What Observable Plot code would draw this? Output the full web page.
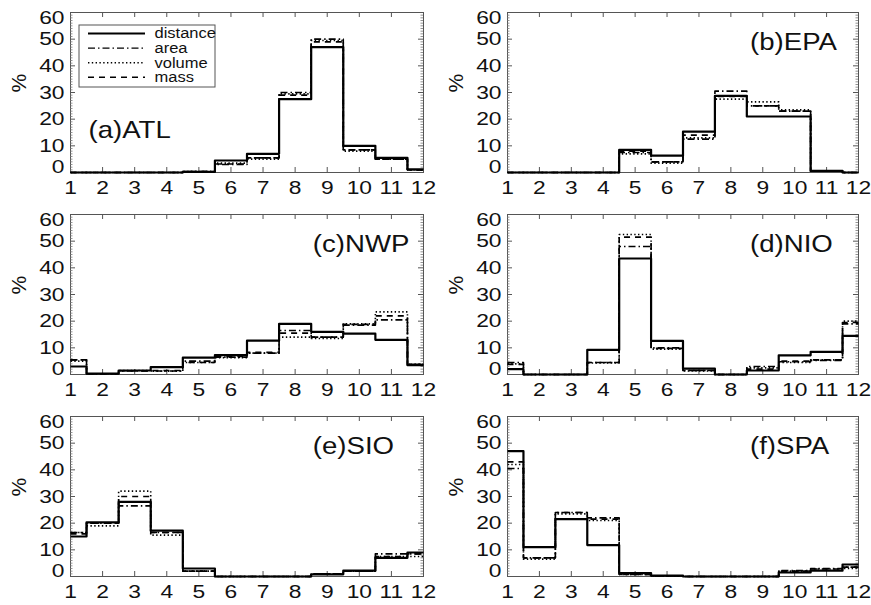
<!DOCTYPE html>
<html><head><meta charset="utf-8">
<script src="https://cdn.jsdelivr.net/npm/d3@7"></script>
<script src="https://cdn.jsdelivr.net/npm/@observablehq/plot@0.6"></script>
<style>
body{margin:0;background:#fff;}
#chart{position:relative;width:871px;height:605px;background:#fff;font-family:"Liberation Sans",Arial,Helvetica,sans-serif;}
#chart svg{position:absolute;overflow:visible;}
</style></head><body><div id="chart"></div>
<script>
// ---- data ----
const months = [1,2,3,4,5,6,7,8,9,10,11,12];
const seriesNames = ["distance","area","volume","mass"];
const regionLabels = ["(a)ATL","(b)EPA","(c)NWP","(d)NIO","(e)SIO","(f)SPA"];
const yMajorTicks = [0,10,20,30,40,50,60];

const ATL_distance = [0,0,0,0,0.2,4.5,7,27.5,47,10,5.5,1.2];
const ATL_area     = [0,0,0,0,0.4,3,5.5,30,50,8.5,5,1];
const ATL_volume   = [0,0,0,0,0.4,3.5,5,29.5,49.5,8,5,1];
const ATL_mass     = [0,0,0,0,0.4,3.2,5.5,29,49,8.5,5,1];

const EPA_distance = [0,0,0,0,8.5,6.3,15.3,28.7,21,21,0.6,0];
const EPA_area     = [0,0,0,0,7.5,4,12.5,30.5,25,23,0.5,0];
const EPA_volume   = [0,0,0,0,7,3.5,13,27.5,26.5,23.5,0.5,0];
const EPA_mass     = [0,0,0,0,8,4,14,28.5,25,23,0.5,0];

const NWP_distance = [3,0.3,1.5,2.8,6.3,7.3,12.7,19,16,15.3,13,3.5];
const NWP_area     = [5.5,0.3,1.3,1.3,5,6.5,8,16.5,14,18.5,20.5,3.8];
const NWP_volume   = [5,0.3,1.5,1.2,4.5,6.3,8,14,13.5,19,23.5,3.8];
const NWP_mass     = [5.5,0.3,1.4,1.5,4.5,6.8,8.3,15.5,14,18.8,22,3.8];

const NIO_distance = [2,0,0,9.2,43.5,12.6,2.2,0,1.5,7.2,8.5,14.5];
const NIO_area     = [4.5,0,0,4.5,48,10,1.5,0,3,4.8,5.3,19];
const NIO_volume   = [4,0,0,4.3,52.5,9.5,1.3,0,2.5,4.5,5.5,20];
const NIO_mass     = [3.8,0,0,4.5,51.5,9.8,1.5,0,2,5,5.5,19.5];

const SIO_distance = [15,20.3,28,17.2,3,0,0,0,0.8,2.2,7,9];
const SIO_area     = [16.5,20,26.5,16.5,2,0,0,0,1,2,8.5,8.5];
const SIO_volume   = [16.5,19,32,15.5,2,0,0,0,1,2,7.5,7.5];
const SIO_mass     = [16,20,30,16.5,2,0,0,0,1,2,7.5,8.5];

const SPA_distance = [47,11,21.5,11.8,1.3,0.3,0,0,0,1.5,2.2,4.5];
const SPA_area     = [40.5,7,24,22,0.8,0.2,0,0,0,2.2,3,3.5];
const SPA_volume   = [42,6.5,23.5,21,0.8,0.2,0,0,0,2,2.8,3];
const SPA_mass     = [43,7,24,21.5,0.8,0.2,0,0,0,2,2.8,3.5];

const regionSeries = [
  [ATL_distance, ATL_area, ATL_volume, ATL_mass],
  [EPA_distance, EPA_area, EPA_volume, EPA_mass],
  [NWP_distance, NWP_area, NWP_volume, NWP_mass],
  [NIO_distance, NIO_area, NIO_volume, NIO_mass],
  [SIO_distance, SIO_area, SIO_volume, SIO_mass],
  [SPA_distance, SPA_area, SPA_volume, SPA_mass]
];

// ---- styles ----
const lineStyles = [
  {strokeWidth: 2.2, strokeDasharray: null},
  {strokeWidth: 1.6, strokeDasharray: "7,3,1.5,3"},
  {strokeWidth: 1.6, strokeDasharray: "1.4,2.4"},
  {strokeWidth: 1.6, strokeDasharray: "6,5"}
];
const FONT = "'Liberation Sans', Arial, Helvetica, sans-serif";
const H = 160;
const colX = [70, 507], colW = [353, 351];
const rowY = [12, 214, 416];
const SVGW = 435, MT = 12, MB = 28;
const yMinor = d3.range(1, 60).filter(v => v % 10 !== 0);
const TICKFS = 19;

const chart = document.getElementById("chart");

regionLabels.forEach((label, i) => {
  const col = i % 2, row = Math.floor(i / 2);
  const fw = colW[col];
  const X = px => 1 + px * 11 / fw;     // frame pixel -> x value (layout helper)
  const Y = py => 60 - py * 60 / H;     // frame pixel -> y value (layout helper)
  const series = regionSeries[i];
  const tidy = [];
  series.forEach((vals, s) => months.forEach((m, k) => tidy.push({month: m, value: vals[k], series: seriesNames[s]})));

  const axisOpts = {tickSize: 0, fontSize: TICKFS, fill: "#111", label: null, className: "stretch-tick"};
  const marks = [
    Plot.frame({stroke: "#555", strokeWidth: 1}),
    Plot.tickX(months, {x: d => d, insetBottom: H - 5, stroke: "#555"}),
    Plot.tickX(months, {x: d => d, insetTop: H - 5, stroke: "#555"}),
    Plot.tickY(yMajorTicks, {y: d => d, insetRight: fw - 5, stroke: "#555"}),
    Plot.tickY(yMajorTicks, {y: d => d, insetLeft: fw - 5, stroke: "#555"}),
    Plot.tickY(yMinor, {y: d => d, insetRight: fw - 2.5, stroke: "#777", strokeWidth: 0.8}),
    Plot.tickY(yMinor, {y: d => d, insetLeft: fw - 2.5, stroke: "#777", strokeWidth: 0.8}),
    Plot.axisX(months, {...axisOpts, anchor: "bottom", tickPadding: 8}),
    Plot.axisY(yMajorTicks.slice(1, -1), {...axisOpts, anchor: "left", tickPadding: 6}),
    Plot.axisY([0], {...axisOpts, anchor: "left", tickPadding: 6, dy: -6}),
    Plot.axisY([60], {...axisOpts, anchor: "left", tickPadding: 6, dy: 5}),
    Plot.text(["%"], {frameAnchor: "left", dx: -51, rotate: -90, fontSize: 21, fill: "#111"})
  ];
  [3, 2, 1, 0].forEach(s => {
    marks.push(Plot.line(tidy.filter(d => d.series === seriesNames[s]), {
      x: "month", y: "value", curve: "step", stroke: "#000",
      strokeWidth: lineStyles[s].strokeWidth, strokeDasharray: lineStyles[s].strokeDasharray,
      strokeLinecap: "butt"
    }));
  });
  marks.push(Plot.text([label], {
    x: i === 0 ? 1.56 : (col ? 8.6 : 8.55),
    y: i === 0 ? 15.7 : 49,
    textAnchor: "start", fontSize: 24, fill: "#111", className: "stretch-title"
  }));
  if (i === 0) {
    marks.push(Plot.rect([0], {x1: X(9), x2: X(145), y1: Y(13), y2: Y(75), fill: "white", stroke: "#555", strokeWidth: 1}));
    seriesNames.forEach((name, s) => {
      marks.push(Plot.ruleY([Y(21 + 14.6 * s)], {x1: X(18), x2: X(75), stroke: "#000",
        strokeWidth: s === 0 ? 1.8 : 1.4, strokeDasharray: lineStyles[s].strokeDasharray}));
    });
    marks.push(Plot.text(seriesNames, {x: X(84), y: (d, s) => Y(21 + 14.6 * s), textAnchor: "start", fontSize: 15, fill: "#111", className: "stretch-legend"}));
  }

  const svg = Plot.plot({
    width: SVGW, height: MT + H + MB,
    marginLeft: colX[col] - (col ? 437 : 0),
    marginRight: SVGW - (colX[col] - (col ? 437 : 0)) - fw,
    marginTop: MT, marginBottom: MB,
    x: {domain: [1, 12], axis: null},
    y: {domain: [0, 60], axis: null},
    style: {fontFamily: FONT, background: "transparent", color: "#111"},
    marks
  });
  // widen glyphs horizontally around each text's anchor point (reference font is wider)
  const stretch = {"stretch-tick": 1.2, "stretch-title": 1.15, "stretch-legend": 1.1};
  Object.entries(stretch).forEach(([cls, k]) => {
    d3.select(svg).selectAll(`g.${cls} text`).each(function() {
      const t = this.getAttribute("transform") || "";
      this.setAttribute("transform", `${t} scale(${k},1)`);
    });
  });
  svg.style.left = (col ? 437 : 0) + "px";
  svg.style.top = (rowY[row] - MT) + "px";
  chart.appendChild(svg);
});
</script>
</body></html>
